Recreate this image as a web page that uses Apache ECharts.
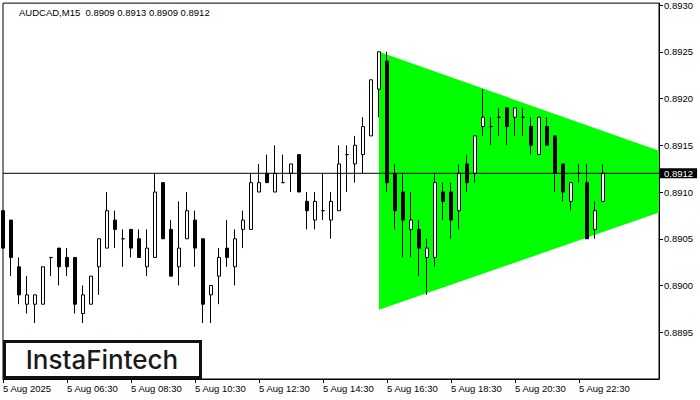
<!DOCTYPE html>
<html>
<head>
<meta charset="utf-8">
<script src="https://cdn.jsdelivr.net/npm/echarts@6/dist/echarts.min.js"></script>
<style>
html,body{margin:0;padding:0;background:#fff;}
#chart{width:700px;height:400px;}
</style>
</head>
<body>
<div id="chart"></div>
<script>
// ---- data ----
const symbolTitle = 'AUDCAD,M15  0.8909 0.8913 0.8909 0.8912';
const xTickLabels = ['5 Aug 2025','5 Aug 06:30','5 Aug 08:30','5 Aug 10:30','5 Aug 12:30','5 Aug 14:30','5 Aug 16:30','5 Aug 18:30','5 Aug 20:30','5 Aug 22:30'];
const yTickLabels = ['0.8895','0.8900','0.8905','0.8910','0.8915','0.8920','0.8925','0.8930'];

const opens = [0.8908,0.8907,0.8902,0.8898,0.8898,0.8898,0.8903,0.8904,0.8903,0.8903,
0.8897,0.8898,0.8902,0.8904,0.8907,0.8905,0.8906,0.8905,0.8902,0.8903,
0.8911,0.8906,0.8902,0.8905,0.8907,0.8905,0.8899,0.8901,0.8904,0.8902,
0.8906,0.8906,0.8910,0.8912,0.8910,0.8911,0.8912,0.8914,0.8909,0.8907,
0.8908,0.8907,0.8908,0.8914,0.8913,0.8914,0.8916,0.8921,0.8924,0.8912,
0.8910,0.8906,0.8906,0.8903,0.8903,0.8910,0.8910,0.8908,0.8913,0.8912,
0.8917,0.8917,0.8918,0.8919,0.8918,0.8918,0.8917,0.8914,0.8917,0.8916,
0.8913,0.8909,0.8912,0.8911,0.8906,0.8909];
const highs = [0.8908,0.8907,0.8903,0.8901,0.8899,0.8902,0.8903,0.8904,0.8904,0.8903,
0.8900,0.8901,0.8905,0.8910,0.8908,0.8906,0.8906,0.8906,0.8906,0.8912,
0.8911,0.8907,0.8909,0.8910,0.8908,0.8905,0.8900,0.8904,0.8907,0.8906,
0.8908,0.8912,0.8913,0.8914,0.8915,0.8914,0.8913,0.8914,0.8910,0.8910,
0.8912,0.8910,0.8915,0.8915,0.8916,0.8918,0.8922,0.8925,0.8925,0.8913,
0.8912,0.8910,0.8907,0.8905,0.8912,0.8911,0.8911,0.8913,0.8914,0.8916,
0.8921,0.8918,0.8919,0.8919,0.8919,0.8919,0.8918,0.8918,0.8918,0.8916,
0.8913,0.8911,0.8913,0.8913,0.8909,0.8913];
const lows = [0.8904,0.8901,0.8898,0.8897,0.8896,0.8898,0.8901,0.8900,0.8901,0.8897,
0.8896,0.8898,0.8899,0.8904,0.8904,0.8902,0.8903,0.8903,0.8901,0.8903,
0.8905,0.8901,0.8900,0.8905,0.8902,0.8896,0.8896,0.8898,0.8902,0.8900,
0.8904,0.8906,0.8910,0.8911,0.8910,0.8911,0.8910,0.8910,0.8906,0.8906,
0.8907,0.8905,0.8908,0.8910,0.8911,0.8912,0.8916,0.8918,0.8910,0.8906,
0.8903,0.8903,0.8901,0.8899,0.8902,0.8907,0.8905,0.8906,0.8910,0.8911,
0.8916,0.8915,0.8916,0.8915,0.8916,0.8916,0.8914,0.8914,0.8915,0.8910,
0.8909,0.8908,0.8911,0.8905,0.8905,0.8909];
const closes = [0.8904,0.8903,0.8899,0.8899,0.8899,0.8902,0.8903,0.8902,0.8902,0.8898,
0.8899,0.8901,0.8905,0.8908,0.8906,0.8905,0.8904,0.8903,0.8904,0.8910,
0.8905,0.8901,0.8904,0.8908,0.8904,0.8898,0.8900,0.8903,0.8903,0.8905,
0.8907,0.8911,0.8911,0.8911,0.8912,0.8911,0.8913,0.8910,0.8908,0.8909,
0.8908,0.8909,0.8913,0.8914,0.8915,0.8917,0.8922,0.8925,0.8911,0.8908,
0.8907,0.8907,0.8904,0.8904,0.8911,0.8909,0.8907,0.8912,0.8911,0.8916,
0.8918,0.8917,0.8918,0.8917,0.8919,0.8918,0.8915,0.8918,0.8915,0.8912,
0.8910,0.8911,0.8912,0.8905,0.8908,0.8912];

// symmetrical triangle pattern (bar index, price) — clipped at chart's right edge
const triX = [47, 82, 82, 47];
const triY = [0.89250, 0.89144, 0.89078, 0.88974];

const lastPrice = 0.8912;
const priceLineX = [0, 82];

// time categories: M15 bars starting 5 Aug 04:30 (83 slots incl. empty right margin)
const categories = [];
for (let i = 0; i < 83; i++) {
  const m = 4 * 60 + 30 + i * 15;
  const hh = Math.floor(m / 60) % 24, mm = m % 60;
  categories.push((hh < 10 ? '0' : '') + hh + ':' + (mm < 10 ? '0' : '') + mm);
}

const candleData = opens.map((o, i) => [o, closes[i], lows[i], highs[i]]);

const FONT = 'Liberation Sans';
const chart = echarts.init(document.getElementById('chart'), null, {renderer: 'svg'});
chart.setOption({
  animation: false,
  backgroundColor: '#fff',
  title: {
    text: symbolTitle, left: 19, top: 7, padding: 0,
    textStyle: {fontFamily: FONT, fontSize: 9.5, fontWeight: 'normal', color: '#000'}
  },
  grid: {left: 3, right: 41, top: 3, bottom: 21, show: true, borderColor: '#000', borderWidth: 1, backgroundColor: '#fff'},
  xAxis: {
    type: 'category', data: categories, boundaryGap: false,
    axisLine: {lineStyle: {color: '#000', width: 1}},
    axisTick: {show: true, length: 4, lineStyle: {color: '#000'}, interval: (i) => i % 8 === 0 && i <= 72},
    axisLabel: {
      interval: (i) => i % 8 === 0 && i <= 72,
      formatter: (v, i) => xTickLabels[i / 8] || '',
      align: 'left', margin: 4,
      fontFamily: FONT, fontSize: 9.5, color: '#000'
    },
    splitLine: {show: false}
  },
  yAxis: {
    type: 'value', position: 'right', scale: true,
    min: 0.8890, max: 0.89302, interval: 0.0005,
    axisLine: {show: true, lineStyle: {color: '#000'}},
    axisTick: {show: true, length: 4, lineStyle: {color: '#000'}},
    axisLabel: {
      showMinLabel: false, showMaxLabel: false, margin: 5,
      formatter: (v) => { const s = v.toFixed(4); return yTickLabels.indexOf(s) >= 0 ? s : ''; },
      fontFamily: FONT, fontSize: 9.5, color: '#000'
    },
    splitLine: {show: false}
  },
  series: [
    {
      type: 'custom', z: 1, silent: true, clip: true,
      data: [[triX[0], triY[0]]],
      renderItem: (params, api) => ({
        type: 'polygon',
        shape: {points: triX.map((x, i) => api.coord([x, triY[i]]))},
        style: {fill: '#00ff00', stroke: null}
      })
    },
    {
      type: 'candlestick', z: 3, barWidth: 4,
      data: candleData,
      itemStyle: {color: '#fff', color0: '#000', borderColor: '#000', borderColor0: '#000', borderColorDoji: '#000', borderWidth: 1}
    },
    {
      type: 'line', z: 4, silent: true, symbol: 'none', clip: false,
      data: priceLineX.map((x) => [x, lastPrice]),
      lineStyle: {color: '#000', width: 1},
      endLabel: {
        show: true, distance: 1,
        formatter: () => lastPrice.toFixed(4),
        color: '#fff', backgroundColor: '#000', padding: [1, 4, 0, 4], lineHeight: 9,
        fontFamily: FONT, fontSize: 9.5
      }
    }
  ],
  graphic: [
    {type: 'rect', z: 100, shape: {x: 4.5, y: 341.5, width: 196, height: 36}, style: {fill: '#fff', stroke: '#111', lineWidth: 3}},
    {type: 'text', z: 101, x: 102, y: 359, style: {text: 'InstaFintech', font: '500 26px Inter', fill: '#1a1a1a', textAlign: 'center', textVerticalAlign: 'middle'}}
  ]
});
</script>
</body>
</html>
